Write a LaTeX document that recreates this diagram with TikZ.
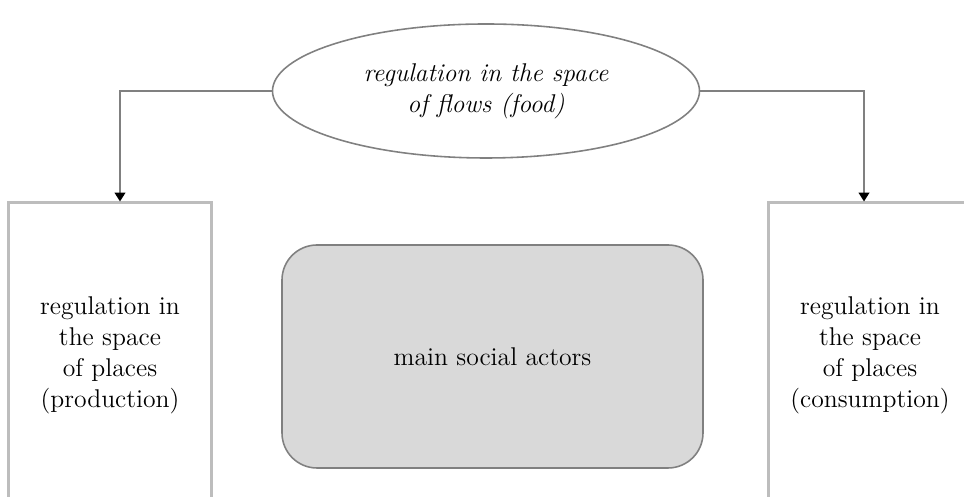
\documentclass[tikz,border=0pt]{standalone}
\usepackage{tikz}
\usetikzlibrary{arrows.meta, shapes.geometric}

\definecolor{linegray}{HTML}{808080}
\definecolor{boxgray}{HTML}{BDBDBD}
\definecolor{actorfill}{HTML}{D9D9D9}

\tikzset{
    placebox/.style={draw=boxgray, line width=1.7pt, minimum width=4.05cm, minimum height=6.08cm, align=center, font=\fontsize{14.6}{17.6}\selectfont},
    flowellipse/.style={ellipse, draw=linegray, line width=0.9pt, minimum width=8.54cm, minimum height=2.68cm, inner sep=0pt, align=center, font=\fontsize{14.6}{17.6}\selectfont\itshape},
    actorbox/.style={draw=linegray, fill=actorfill, line width=0.9pt, rounded corners=0.7cm, minimum width=8.42cm, minimum height=4.46cm, font=\fontsize{14.6}{17.6}\selectfont},
    flowarrow/.style={draw=linegray, line width=1pt, -{Triangle[black, length=5pt, width=6pt]}}
}

\begin{document}
\begin{tikzpicture}

    \clip (0,0) rectangle (19.28,9.94);

    % ==========================================
    % Space of flows (top)
    % ==========================================
    \node[flowellipse] (flows) at (9.72,8.12) {regulation in the space\\of flows (food)};

    % ==========================================
    % Spaces of places (left and right) and actors (centre)
    % ==========================================
    \node[placebox] (prod) at (2.2,2.84) {regulation in\\the space\\of places\\(production)};
    \node[placebox] (cons) at (17.4,2.84) {regulation in\\the space\\of places\\(consumption)};
    \node[actorbox] (actors) at (9.85,2.81) {main social actors};

    % Connectors from the ellipse down to the boxes
    \draw[flowarrow] (flows.west) -| ([xshift=0.2cm]prod.north);
    \draw[flowarrow] (flows.east) -| ([xshift=-0.12cm]cons.north);

\end{tikzpicture}
\end{document}
